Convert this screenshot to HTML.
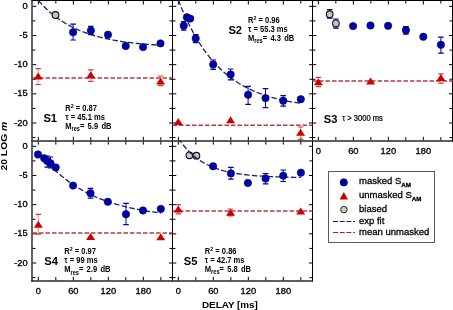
<!DOCTYPE html>
<html><head><meta charset="utf-8"><style>
html,body{margin:0;padding:0;background:#fff;}
svg{display:block;will-change:transform;}
text{font-family:"Liberation Sans",sans-serif;fill:#000;}
.tl{font-size:9.3px;stroke:#000;stroke-width:0.33px;}
.pl{font-size:11.8px;font-weight:bold;}
.st{font-size:8.6px;font-weight:bold;}
.sup{font-size:6px;}
.sub{font-size:6.4px;}
.at{font-size:9.5px;font-weight:bold;}
.lg{font-size:9.5px;stroke:#000;stroke-width:0.3px;}
.lsub{font-size:6.2px;font-weight:bold;}
</style></head>
<body><svg width="453" height="310" viewBox="0 0 453 310">
<defs><clipPath id="c00"><rect x="32" y="0" width="141" height="141"/></clipPath><clipPath id="c01"><rect x="32" y="140" width="141" height="141"/></clipPath><clipPath id="c10"><rect x="172" y="0" width="141" height="141"/></clipPath><clipPath id="c11"><rect x="172" y="140" width="141" height="141"/></clipPath><clipPath id="c20"><rect x="312" y="0" width="141" height="141"/></clipPath><clipPath id="c21"><rect x="312" y="140" width="141" height="141"/></clipPath></defs>
<path d="M31.3 0.5 H453" stroke="#000" stroke-width="1" fill="none"/>
<path d="M172.5 0 V281.7 M312.5 0 V281.7 M452.5 0 V141.7" stroke="#000" stroke-width="1" fill="none"/>
<path d="M32 0 V281.7" stroke="#222" stroke-width="1.4" fill="none"/>
<path d="M31.3 141 H453 M31.3 281 H313" stroke="#2a2a2a" stroke-width="1.45" fill="none"/>
<path d="M32.5 6.33h3.8 M172.5 6.33h-3.5 M32.5 35.5h3.8 M172.5 35.5h-3.5 M32.5 64.67h3.8 M172.5 64.67h-3.5 M32.5 93.83h3.8 M172.5 93.83h-3.5 M32.5 123.0h3.8 M172.5 123.0h-3.5 M32.5 20.92h3 M172.5 20.92h-3 M32.5 50.08h3 M172.5 50.08h-3 M32.5 79.25h3 M172.5 79.25h-3 M32.5 108.42h3 M172.5 108.42h-3 M32.5 137.58h3 M172.5 137.58h-3 M38.33 0.5v4.0 M38.33 140.3v-3.5 M73.33 0.5v4.0 M73.33 140.3v-3.5 M108.33 0.5v4.0 M108.33 140.3v-3.5 M143.33 0.5v4.0 M143.33 140.3v-3.5 M55.83 0.5v3.0 M55.83 140.3v-3.2 M90.83 0.5v3.0 M90.83 140.3v-3.2 M125.83 0.5v3.0 M125.83 140.3v-3.2 M160.83 0.5v3.0 M160.83 140.3v-3.2" stroke="#000" stroke-width="1" fill="none"/>
<path d="M172.5 6.33h3.8 M312.5 6.33h-3.5 M172.5 35.5h3.8 M312.5 35.5h-3.5 M172.5 64.67h3.8 M312.5 64.67h-3.5 M172.5 93.83h3.8 M312.5 93.83h-3.5 M172.5 123.0h3.8 M312.5 123.0h-3.5 M172.5 20.92h3 M312.5 20.92h-3 M172.5 50.08h3 M312.5 50.08h-3 M172.5 79.25h3 M312.5 79.25h-3 M172.5 108.42h3 M312.5 108.42h-3 M172.5 137.58h3 M312.5 137.58h-3 M178.33 0.5v4.0 M178.33 140.3v-3.5 M213.33 0.5v4.0 M213.33 140.3v-3.5 M248.33 0.5v4.0 M248.33 140.3v-3.5 M283.33 0.5v4.0 M283.33 140.3v-3.5 M195.83 0.5v3.0 M195.83 140.3v-3.2 M230.83 0.5v3.0 M230.83 140.3v-3.2 M265.83 0.5v3.0 M265.83 140.3v-3.2 M300.83 0.5v3.0 M300.83 140.3v-3.2" stroke="#000" stroke-width="1" fill="none"/>
<path d="M312.5 6.33h3.8 M452.5 6.33h-3.5 M312.5 35.5h3.8 M452.5 35.5h-3.5 M312.5 64.67h3.8 M452.5 64.67h-3.5 M312.5 93.83h3.8 M452.5 93.83h-3.5 M312.5 123.0h3.8 M452.5 123.0h-3.5 M312.5 20.92h3 M452.5 20.92h-3 M312.5 50.08h3 M452.5 50.08h-3 M312.5 79.25h3 M452.5 79.25h-3 M312.5 108.42h3 M452.5 108.42h-3 M312.5 137.58h3 M452.5 137.58h-3 M318.33 0.5v4.0 M318.33 140.3v-3.5 M353.33 0.5v4.0 M353.33 140.3v-3.5 M388.33 0.5v4.0 M388.33 140.3v-3.5 M423.33 0.5v4.0 M423.33 140.3v-3.5 M335.83 0.5v3.0 M335.83 140.3v-3.2 M370.83 0.5v3.0 M370.83 140.3v-3.2 M405.83 0.5v3.0 M405.83 140.3v-3.2 M440.83 0.5v3.0 M440.83 140.3v-3.2" stroke="#000" stroke-width="1" fill="none"/>
<path d="M32.5 146.33h3.8 M172.5 146.33h-3.5 M32.5 175.5h3.8 M172.5 175.5h-3.5 M32.5 204.67h3.8 M172.5 204.67h-3.5 M32.5 233.83h3.8 M172.5 233.83h-3.5 M32.5 263.0h3.8 M172.5 263.0h-3.5 M32.5 160.92h3 M172.5 160.92h-3 M32.5 190.08h3 M172.5 190.08h-3 M32.5 219.25h3 M172.5 219.25h-3 M32.5 248.42h3 M172.5 248.42h-3 M32.5 277.58h3 M172.5 277.58h-3 M38.33 141.6v3.0 M38.33 280.3v-3.5 M73.33 141.6v3.0 M73.33 280.3v-3.5 M108.33 141.6v3.0 M108.33 280.3v-3.5 M143.33 141.6v3.0 M143.33 280.3v-3.5 M55.83 141.6v3.0 M55.83 280.3v-3.2 M90.83 141.6v3.0 M90.83 280.3v-3.2 M125.83 141.6v3.0 M125.83 280.3v-3.2 M160.83 141.6v3.0 M160.83 280.3v-3.2" stroke="#000" stroke-width="1" fill="none"/>
<path d="M172.5 146.33h3.8 M312.5 146.33h-3.5 M172.5 175.5h3.8 M312.5 175.5h-3.5 M172.5 204.67h3.8 M312.5 204.67h-3.5 M172.5 233.83h3.8 M312.5 233.83h-3.5 M172.5 263.0h3.8 M312.5 263.0h-3.5 M172.5 160.92h3 M312.5 160.92h-3 M172.5 190.08h3 M312.5 190.08h-3 M172.5 219.25h3 M312.5 219.25h-3 M172.5 248.42h3 M312.5 248.42h-3 M172.5 277.58h3 M312.5 277.58h-3 M178.33 141.6v3.0 M178.33 280.3v-3.5 M213.33 141.6v3.0 M213.33 280.3v-3.5 M248.33 141.6v3.0 M248.33 280.3v-3.5 M283.33 141.6v3.0 M283.33 280.3v-3.5 M195.83 141.6v3.0 M195.83 280.3v-3.2 M230.83 141.6v3.0 M230.83 280.3v-3.2 M265.83 141.6v3.0 M265.83 280.3v-3.2 M300.83 141.6v3.0 M300.83 280.3v-3.2" stroke="#000" stroke-width="1" fill="none"/>
<text x="27.6" y="8.93" text-anchor="end" class="tl">0</text>
<text x="27.6" y="38.10" text-anchor="end" class="tl">-5</text>
<text x="27.6" y="67.27" text-anchor="end" class="tl">-10</text>
<text x="27.6" y="96.43" text-anchor="end" class="tl">-15</text>
<text x="27.6" y="125.60" text-anchor="end" class="tl">-20</text>
<text x="27.6" y="148.93" text-anchor="end" class="tl">0</text>
<text x="27.6" y="178.10" text-anchor="end" class="tl">-5</text>
<text x="27.6" y="207.27" text-anchor="end" class="tl">-10</text>
<text x="27.6" y="236.43" text-anchor="end" class="tl">-15</text>
<text x="27.6" y="265.60" text-anchor="end" class="tl">-20</text>
<text x="38.33" y="293.6" text-anchor="middle" class="tl">0</text>
<text x="73.33" y="293.6" text-anchor="middle" class="tl">60</text>
<text x="108.33" y="293.6" text-anchor="middle" class="tl">120</text>
<text x="143.33" y="293.6" text-anchor="middle" class="tl">180</text>
<text x="178.33" y="293.6" text-anchor="middle" class="tl">0</text>
<text x="213.33" y="293.6" text-anchor="middle" class="tl">60</text>
<text x="248.33" y="293.6" text-anchor="middle" class="tl">120</text>
<text x="283.33" y="293.6" text-anchor="middle" class="tl">180</text>
<text x="318.33" y="153.6" text-anchor="middle" class="tl">0</text>
<text x="353.33" y="153.6" text-anchor="middle" class="tl">60</text>
<text x="388.33" y="153.6" text-anchor="middle" class="tl">120</text>
<text x="423.33" y="153.6" text-anchor="middle" class="tl">180</text>
<path d="M32.5 78.0H172.5" stroke="#b83a42" stroke-width="1.4" stroke-dasharray="4.5 2"/>
<path d="M38.2 68.7V84.5" stroke="#e88a8a" stroke-width="1" fill="none"/><path d="M35.5 68.7h5.4 M35.5 84.5h5.4" stroke="#d23a3a" stroke-width="1.2" fill="none"/><path d="M38.2 72.39999999999999 L42.7 79.39999999999999 L33.7 79.39999999999999 Z" fill="#cc0000"/>
<path d="M90.8 69.8V81.3" stroke="#e88a8a" stroke-width="1" fill="none"/><path d="M88.1 69.8h5.4 M88.1 81.3h5.4" stroke="#d23a3a" stroke-width="1.2" fill="none"/><path d="M90.8 71.3 L95.3 78.3 L86.3 78.3 Z" fill="#cc0000"/>
<path d="M160.6 76V85.6" stroke="#e88a8a" stroke-width="1" fill="none"/><path d="M157.9 76h5.4 M157.9 85.6h5.4" stroke="#d23a3a" stroke-width="1.2" fill="none"/><path d="M160.6 77.39999999999999 L165.1 84.39999999999999 L156.1 84.39999999999999 Z" fill="#cc0000"/>
<path d="M38.33 0.50 L39.86 2.23 L41.40 3.90 L42.93 5.51 L44.46 7.06 L45.99 8.55 L47.52 9.99 L49.05 11.37 L50.58 12.71 L52.11 13.99 L53.65 15.23 L55.18 16.42 L56.71 17.57 L58.24 18.67 L59.77 19.74 L61.30 20.76 L62.83 21.75 L64.36 22.70 L65.90 23.62 L67.43 24.50 L68.96 25.35 L70.49 26.17 L72.02 26.96 L73.55 27.72 L75.08 28.45 L76.61 29.16 L78.15 29.83 L79.68 30.49 L81.21 31.12 L82.74 31.72 L84.27 32.31 L85.80 32.87 L87.33 33.41 L88.86 33.94 L90.40 34.44 L91.93 34.92 L93.46 35.39 L94.99 35.84 L96.52 36.27 L98.05 36.69 L99.58 37.09 L101.11 37.48 L102.65 37.85 L104.18 38.21 L105.71 38.55 L107.24 38.89 L108.77 39.21 L110.30 39.52 L111.83 39.81 L113.36 40.10 L114.90 40.38 L116.43 40.64 L117.96 40.90 L119.49 41.15 L121.02 41.38 L122.55 41.61 L124.08 41.83 L125.61 42.04 L127.15 42.25 L128.68 42.45 L130.21 42.64 L131.74 42.82 L133.27 42.99 L134.80 43.16 L136.33 43.33 L137.86 43.48 L139.40 43.64 L140.93 43.78 L142.46 43.92 L143.99 44.06 L145.52 44.19 L147.05 44.31 L148.58 44.43 L150.11 44.55 L151.65 44.66 L153.18 44.77 L154.71 44.88 L156.24 44.98 L157.77 45.07 L159.30 45.17 L160.83 45.26" stroke="#1c1c7a" stroke-width="1.3" fill="none" stroke-dasharray="5.5 2.3" clip-path="url(#c00)"/>
<circle cx="55.5" cy="15" r="3.35" fill="#c4c4c4" stroke="#111" stroke-width="1.1"/>
<path d="M73.1 24.2V40" stroke="#0000a8" stroke-width="1" fill="none"/><path d="M70.3 24.2h5.6 M70.3 40h5.6" stroke="#0000a8" stroke-width="1.2" fill="none"/><circle cx="73.1" cy="32.3" r="3.7" fill="#0000a8" stroke="#00006a" stroke-width="0.6"/>
<path d="M90.9 26.3V34.7" stroke="#0000a8" stroke-width="1" fill="none"/><path d="M88.10000000000001 26.3h5.6 M88.10000000000001 34.7h5.6" stroke="#0000a8" stroke-width="1.2" fill="none"/><circle cx="90.9" cy="30.6" r="3.7" fill="#0000a8" stroke="#00006a" stroke-width="0.6"/>
<circle cx="108" cy="34.7" r="3.7" fill="#0000a8" stroke="#00006a" stroke-width="0.6"/>
<circle cx="125.7" cy="46" r="3.7" fill="#0000a8" stroke="#00006a" stroke-width="0.6"/>
<circle cx="143.1" cy="47.1" r="3.7" fill="#0000a8" stroke="#00006a" stroke-width="0.6"/>
<circle cx="160.5" cy="43.4" r="3.7" fill="#0000a8" stroke="#00006a" stroke-width="0.6"/>
<path d="M172.5 125.2H312.5" stroke="#b83a42" stroke-width="1.4" stroke-dasharray="4.5 2"/>
<path d="M178.3 117.89999999999999 L182.8 124.89999999999999 L173.8 124.89999999999999 Z" fill="#cc0000"/>
<path d="M230.6 116.3 L235.1 123.3 L226.1 123.3 Z" fill="#cc0000"/>
<path d="M300.6 127V139.4" stroke="#e88a8a" stroke-width="1" fill="none"/><path d="M297.90000000000003 127h5.4 M297.90000000000003 139.4h5.4" stroke="#d23a3a" stroke-width="1.2" fill="none"/><path d="M300.6 128.7 L305.1 135.7 L296.1 135.7 Z" fill="#cc0000"/>
<path d="M178.33 0.00 L179.86 3.89 L181.40 7.64 L182.93 11.26 L184.46 14.75 L185.99 18.12 L187.52 21.36 L189.05 24.49 L190.58 27.51 L192.11 30.42 L193.65 33.23 L195.18 35.94 L196.71 38.55 L198.24 41.07 L199.77 43.50 L201.30 45.84 L202.83 48.10 L204.36 50.28 L205.90 52.39 L207.43 54.41 L208.96 56.37 L210.49 58.25 L212.02 60.07 L213.55 61.83 L215.08 63.52 L216.61 65.15 L218.15 66.72 L219.68 68.24 L221.21 69.71 L222.74 71.12 L224.27 72.48 L225.80 73.79 L227.33 75.06 L228.86 76.28 L230.40 77.46 L231.93 78.59 L233.46 79.69 L234.99 80.74 L236.52 81.76 L238.05 82.75 L239.58 83.69 L241.11 84.61 L242.65 85.49 L244.18 86.34 L245.71 87.16 L247.24 87.95 L248.77 88.71 L250.30 89.45 L251.83 90.16 L253.36 90.84 L254.90 91.50 L256.43 92.14 L257.96 92.75 L259.49 93.34 L261.02 93.92 L262.55 94.47 L264.08 95.00 L265.61 95.51 L267.15 96.00 L268.68 96.48 L270.21 96.94 L271.74 97.38 L273.27 97.81 L274.80 98.22 L276.33 98.62 L277.86 99.00 L279.40 99.37 L280.93 99.73 L282.46 100.07 L283.99 100.40 L285.52 100.72 L287.05 101.03 L288.58 101.33 L290.11 101.62 L291.65 101.89 L293.18 102.16 L294.71 102.42 L296.24 102.67 L297.77 102.91 L299.30 103.14 L300.83 103.36" stroke="#1c1c7a" stroke-width="1.3" fill="none" stroke-dasharray="5.5 2.3" clip-path="url(#c10)"/>
<path d="M183.7 21.5V30.2" stroke="#0000a8" stroke-width="1" fill="none"/><path d="M180.89999999999998 21.5h5.6 M180.89999999999998 30.2h5.6" stroke="#0000a8" stroke-width="1.2" fill="none"/><circle cx="183.7" cy="25.7" r="3.7" fill="#0000a8" stroke="#00006a" stroke-width="0.6"/>
<circle cx="186.9" cy="17.3" r="3.7" fill="#0000a8" stroke="#00006a" stroke-width="0.6"/>
<circle cx="190.2" cy="18.6" r="3.7" fill="#0000a8" stroke="#00006a" stroke-width="0.6"/>
<path d="M195.7 34.7V42.7" stroke="#0000a8" stroke-width="1" fill="none"/><path d="M192.89999999999998 34.7h5.6 M192.89999999999998 42.7h5.6" stroke="#0000a8" stroke-width="1.2" fill="none"/><circle cx="195.7" cy="38.4" r="3.7" fill="#0000a8" stroke="#00006a" stroke-width="0.6"/>
<path d="M213.2 60V69.4" stroke="#0000a8" stroke-width="1" fill="none"/><path d="M210.39999999999998 60h5.6 M210.39999999999998 69.4h5.6" stroke="#0000a8" stroke-width="1.2" fill="none"/><circle cx="213.2" cy="64.5" r="3.7" fill="#0000a8" stroke="#00006a" stroke-width="0.6"/>
<path d="M230.6 69V79.8" stroke="#0000a8" stroke-width="1" fill="none"/><path d="M227.79999999999998 69h5.6 M227.79999999999998 79.8h5.6" stroke="#0000a8" stroke-width="1.2" fill="none"/><circle cx="230.6" cy="74.5" r="3.7" fill="#0000a8" stroke="#00006a" stroke-width="0.6"/>
<path d="M248.1 86.3V104.4" stroke="#0000a8" stroke-width="1" fill="none"/><path d="M245.29999999999998 86.3h5.6 M245.29999999999998 104.4h5.6" stroke="#0000a8" stroke-width="1.2" fill="none"/><circle cx="248.1" cy="94.8" r="3.7" fill="#0000a8" stroke="#00006a" stroke-width="0.6"/>
<path d="M265.5 88.7V107.7" stroke="#0000a8" stroke-width="1" fill="none"/><path d="M262.7 88.7h5.6 M262.7 107.7h5.6" stroke="#0000a8" stroke-width="1.2" fill="none"/><circle cx="265.5" cy="98.1" r="3.7" fill="#0000a8" stroke="#00006a" stroke-width="0.6"/>
<path d="M283.2 95.6V106.1" stroke="#0000a8" stroke-width="1" fill="none"/><path d="M280.4 95.6h5.6 M280.4 106.1h5.6" stroke="#0000a8" stroke-width="1.2" fill="none"/><circle cx="283.2" cy="100.8" r="3.7" fill="#0000a8" stroke="#00006a" stroke-width="0.6"/>
<circle cx="300.8" cy="99.2" r="3.7" fill="#0000a8" stroke="#00006a" stroke-width="0.6"/>
<path d="M312.5 81.0H452.5" stroke="#b83a42" stroke-width="1.4" stroke-dasharray="4.5 2"/>
<path d="M318.4 77.3V86.6" stroke="#e88a8a" stroke-width="1" fill="none"/><path d="M315.7 77.3h5.4 M315.7 86.6h5.4" stroke="#d23a3a" stroke-width="1.2" fill="none"/><path d="M318.4 78.3 L322.9 85.3 L313.9 85.3 Z" fill="#cc0000"/>
<path d="M370.6 77.39999999999999 L375.1 84.39999999999999 L366.1 84.39999999999999 Z" fill="#cc0000"/>
<path d="M440.9 73.8V83.2" stroke="#e88a8a" stroke-width="1" fill="none"/><path d="M438.2 73.8h5.4 M438.2 83.2h5.4" stroke="#d23a3a" stroke-width="1.2" fill="none"/><path d="M440.9 73.89999999999999 L445.4 80.89999999999999 L436.4 80.89999999999999 Z" fill="#cc0000"/>
<path d="M329.7 9.7V18.2" stroke="#0000a8" stroke-width="1" fill="none"/><path d="M326.9 9.7h5.6 M326.9 18.2h5.6" stroke="#0000a8" stroke-width="1.2" fill="none"/><circle cx="329.7" cy="14.2" r="3.35" fill="#c4c4c4" stroke="#111" stroke-width="1.1"/>
<path d="M335.9 19V28.2" stroke="#0000a8" stroke-width="1" fill="none"/><path d="M333.09999999999997 19h5.6 M333.09999999999997 28.2h5.6" stroke="#0000a8" stroke-width="1.2" fill="none"/><circle cx="335.9" cy="23.4" r="3.35" fill="#c4c4c4" stroke="#111" stroke-width="1.1"/>
<circle cx="353.1" cy="26.1" r="3.7" fill="#0000a8" stroke="#00006a" stroke-width="0.6"/>
<circle cx="370.5" cy="25.5" r="3.7" fill="#0000a8" stroke="#00006a" stroke-width="0.6"/>
<path d="M388.1 23.5V28" stroke="#0000a8" stroke-width="1" fill="none"/><path d="M385.3 23.5h5.6 M385.3 28h5.6" stroke="#0000a8" stroke-width="1.2" fill="none"/><circle cx="388.1" cy="25.8" r="3.7" fill="#0000a8" stroke="#00006a" stroke-width="0.6"/>
<path d="M405.9 26.6V34.2" stroke="#0000a8" stroke-width="1" fill="none"/><path d="M403.09999999999997 26.6h5.6 M403.09999999999997 34.2h5.6" stroke="#0000a8" stroke-width="1.2" fill="none"/><circle cx="405.9" cy="30.2" r="3.7" fill="#0000a8" stroke="#00006a" stroke-width="0.6"/>
<circle cx="423.3" cy="36.8" r="3.7" fill="#0000a8" stroke="#00006a" stroke-width="0.6"/>
<path d="M440.9 37.1V53.2" stroke="#0000a8" stroke-width="1" fill="none"/><path d="M438.09999999999997 37.1h5.6 M438.09999999999997 53.2h5.6" stroke="#0000a8" stroke-width="1.2" fill="none"/><circle cx="440.9" cy="44.8" r="3.7" fill="#0000a8" stroke="#00006a" stroke-width="0.6"/>
<path d="M32.5 233.0H172.5" stroke="#b83a42" stroke-width="1.4" stroke-dasharray="4.5 2"/>
<path d="M38.3 214.4V234.2" stroke="#e88a8a" stroke-width="1" fill="none"/><path d="M35.599999999999994 214.4h5.4 M35.599999999999994 234.2h5.4" stroke="#d23a3a" stroke-width="1.2" fill="none"/><path d="M38.3 220.7 L42.8 227.7 L33.8 227.7 Z" fill="#cc0000"/>
<path d="M90.6 232.9 L95.1 239.9 L86.1 239.9 Z" fill="#cc0000"/>
<path d="M160.8 233.29999999999998 L165.3 240.29999999999998 L156.3 240.29999999999998 Z" fill="#cc0000"/>
<path d="M38.33 151.50 L39.86 153.47 L41.40 155.39 L42.93 157.25 L44.46 159.06 L45.99 160.81 L47.52 162.51 L49.05 164.17 L50.58 165.77 L52.11 167.33 L53.65 168.84 L55.18 170.31 L56.71 171.74 L58.24 173.12 L59.77 174.47 L61.30 175.78 L62.83 177.04 L64.36 178.27 L65.90 179.47 L67.43 180.63 L68.96 181.76 L70.49 182.85 L72.02 183.91 L73.55 184.94 L75.08 185.95 L76.61 186.92 L78.15 187.86 L79.68 188.78 L81.21 189.67 L82.74 190.53 L84.27 191.37 L85.80 192.19 L87.33 192.98 L88.86 193.75 L90.40 194.49 L91.93 195.21 L93.46 195.92 L94.99 196.60 L96.52 197.26 L98.05 197.91 L99.58 198.53 L101.11 199.14 L102.65 199.73 L104.18 200.30 L105.71 200.85 L107.24 201.39 L108.77 201.92 L110.30 202.42 L111.83 202.92 L113.36 203.40 L114.90 203.86 L116.43 204.31 L117.96 204.75 L119.49 205.18 L121.02 205.59 L122.55 205.99 L124.08 206.38 L125.61 206.76 L127.15 207.13 L128.68 207.48 L130.21 207.83 L131.74 208.17 L133.27 208.49 L134.80 208.81 L136.33 209.12 L137.86 209.42 L139.40 209.71 L140.93 209.99 L142.46 210.26 L143.99 210.53 L145.52 210.79 L147.05 211.04 L148.58 211.28 L150.11 211.52 L151.65 211.74 L153.18 211.97 L154.71 212.18 L156.24 212.39 L157.77 212.60 L159.30 212.79 L160.83 212.99" stroke="#1c1c7a" stroke-width="1.3" fill="none" stroke-dasharray="5.5 2.3" clip-path="url(#c01)"/>
<circle cx="38" cy="154.5" r="3.7" fill="#0000a8" stroke="#00006a" stroke-width="0.6"/>
<circle cx="44.2" cy="158.3" r="3.7" fill="#0000a8" stroke="#00006a" stroke-width="0.6"/>
<path d="M47.2 156V167.2" stroke="#0000a8" stroke-width="1" fill="none"/><path d="M44.400000000000006 156h5.6 M44.400000000000006 167.2h5.6" stroke="#0000a8" stroke-width="1.2" fill="none"/><circle cx="47.2" cy="161" r="3.7" fill="#0000a8" stroke="#00006a" stroke-width="0.6"/>
<path d="M50.5 157V168" stroke="#0000a8" stroke-width="1" fill="none"/><path d="M47.7 157h5.6 M47.7 168h5.6" stroke="#0000a8" stroke-width="1.2" fill="none"/><circle cx="50.5" cy="163.3" r="3.7" fill="#0000a8" stroke="#00006a" stroke-width="0.6"/>
<circle cx="55.7" cy="167.5" r="3.7" fill="#0000a8" stroke="#00006a" stroke-width="0.6"/>
<circle cx="73.1" cy="185.6" r="3.7" fill="#0000a8" stroke="#00006a" stroke-width="0.6"/>
<path d="M90.5 188.3V198.2" stroke="#0000a8" stroke-width="1" fill="none"/><path d="M87.7 188.3h5.6 M87.7 198.2h5.6" stroke="#0000a8" stroke-width="1.2" fill="none"/><circle cx="90.5" cy="193.2" r="3.7" fill="#0000a8" stroke="#00006a" stroke-width="0.6"/>
<circle cx="107.8" cy="201.8" r="3.7" fill="#0000a8" stroke="#00006a" stroke-width="0.6"/>
<path d="M126 203.4V224.7" stroke="#0000a8" stroke-width="1" fill="none"/><path d="M123.2 203.4h5.6 M123.2 224.7h5.6" stroke="#0000a8" stroke-width="1.2" fill="none"/><circle cx="126" cy="214.2" r="3.7" fill="#0000a8" stroke="#00006a" stroke-width="0.6"/>
<circle cx="143" cy="210.5" r="3.7" fill="#0000a8" stroke="#00006a" stroke-width="0.6"/>
<circle cx="160.8" cy="208.9" r="3.7" fill="#0000a8" stroke="#00006a" stroke-width="0.6"/>
<path d="M172.5 211.0H312.5" stroke="#b83a42" stroke-width="1.4" stroke-dasharray="4.5 2"/>
<path d="M178.3 204.6V213.9" stroke="#e88a8a" stroke-width="1" fill="none"/><path d="M175.60000000000002 204.6h5.4 M175.60000000000002 213.9h5.4" stroke="#d23a3a" stroke-width="1.2" fill="none"/><path d="M178.3 205.6 L182.8 212.6 L173.8 212.6 Z" fill="#cc0000"/>
<path d="M230.5 209V215.9" stroke="#e88a8a" stroke-width="1" fill="none"/><path d="M227.8 209h5.4 M227.8 215.9h5.4" stroke="#d23a3a" stroke-width="1.2" fill="none"/><path d="M230.5 208.7 L235.0 215.7 L226.0 215.7 Z" fill="#cc0000"/>
<path d="M300.7 207.5 L305.2 214.5 L296.2 214.5 Z" fill="#cc0000"/>
<circle cx="189.4" cy="155.3" r="3.35" fill="#c4c4c4" stroke="#111" stroke-width="1.1"/>
<circle cx="196.4" cy="155.7" r="3.35" fill="#c4c4c4" stroke="#111" stroke-width="1.1"/>
<path d="M178.33 138.30 L179.86 140.54 L181.40 142.65 L182.93 144.64 L184.46 146.52 L185.99 148.29 L187.52 149.96 L189.05 151.54 L190.58 153.03 L192.11 154.43 L193.65 155.76 L195.18 157.01 L196.71 158.18 L198.24 159.30 L199.77 160.34 L201.30 161.33 L202.83 162.27 L204.36 163.15 L205.90 163.98 L207.43 164.76 L208.96 165.50 L210.49 166.20 L212.02 166.85 L213.55 167.47 L215.08 168.06 L216.61 168.61 L218.15 169.13 L219.68 169.62 L221.21 170.09 L222.74 170.52 L224.27 170.94 L225.80 171.32 L227.33 171.69 L228.86 172.04 L230.40 172.36 L231.93 172.67 L233.46 172.96 L234.99 173.24 L236.52 173.50 L238.05 173.74 L239.58 173.97 L241.11 174.19 L242.65 174.39 L244.18 174.58 L245.71 174.77 L247.24 174.94 L248.77 175.10 L250.30 175.25 L251.83 175.40 L253.36 175.53 L254.90 175.66 L256.43 175.78 L257.96 175.90 L259.49 176.01 L261.02 176.11 L262.55 176.20 L264.08 176.29 L265.61 176.38 L267.15 176.46 L268.68 176.54 L270.21 176.61 L271.74 176.67 L273.27 176.74 L274.80 176.80 L276.33 176.86 L277.86 176.91 L279.40 176.96 L280.93 177.01 L282.46 177.05 L283.99 177.09 L285.52 177.13 L287.05 177.17 L288.58 177.21 L290.11 177.24 L291.65 177.27 L293.18 177.30 L294.71 177.33 L296.24 177.36 L297.77 177.38 L299.30 177.41 L300.83 177.43" stroke="#1c1c7a" stroke-width="1.3" fill="none" stroke-dasharray="5.5 2.3" clip-path="url(#c11)"/>
<circle cx="213.1" cy="166.3" r="3.7" fill="#0000a8" stroke="#00006a" stroke-width="0.6"/>
<path d="M230.9 167.4V179.2" stroke="#0000a8" stroke-width="1" fill="none"/><path d="M228.1 167.4h5.6 M228.1 179.2h5.6" stroke="#0000a8" stroke-width="1.2" fill="none"/><circle cx="230.9" cy="173.4" r="3.7" fill="#0000a8" stroke="#00006a" stroke-width="0.6"/>
<circle cx="247.9" cy="182.9" r="3.7" fill="#0000a8" stroke="#00006a" stroke-width="0.6"/>
<path d="M265.6 173.6V183.8" stroke="#0000a8" stroke-width="1" fill="none"/><path d="M262.8 173.6h5.6 M262.8 183.8h5.6" stroke="#0000a8" stroke-width="1.2" fill="none"/><circle cx="265.6" cy="178.5" r="3.7" fill="#0000a8" stroke="#00006a" stroke-width="0.6"/>
<path d="M283.2 170V181.5" stroke="#0000a8" stroke-width="1" fill="none"/><path d="M280.4 170h5.6 M280.4 181.5h5.6" stroke="#0000a8" stroke-width="1.2" fill="none"/><circle cx="283.2" cy="175.8" r="3.7" fill="#0000a8" stroke="#00006a" stroke-width="0.6"/>
<circle cx="300.9" cy="172.7" r="3.7" fill="#0000a8" stroke="#00006a" stroke-width="0.6"/>
<g transform="translate(43.4 122.2) scale(0.95 1)"><text x="0" y="0" class="pl">S1</text></g>
<g transform="translate(65.2 110.9) scale(0.88 1)"><text x="0" y="0" class="st">R<tspan class="sup" dy="-3">2</tspan><tspan dy="3"> = 0.87</tspan></text></g><g transform="translate(65.2 119.8) scale(0.88 1)"><text x="0" y="0" class="st">τ = 45.1 ms</text></g><g transform="translate(65.2 128.7) scale(0.88 1)"><text x="0" y="0" class="st">M<tspan class="sub" dy="2.4">res</tspan><tspan dy="-2.4" word-spacing="1.3">= 5.9 dB</tspan></text></g>
<g transform="translate(228.4 33.6) scale(0.95 1)"><text x="0" y="0" class="pl">S2</text></g>
<g transform="translate(248.0 22.9) scale(0.88 1)"><text x="0" y="0" class="st">R<tspan class="sup" dy="-3">2</tspan><tspan dy="3"> = 0.96</tspan></text></g><g transform="translate(248.0 31.8) scale(0.88 1)"><text x="0" y="0" class="st">τ = 55.3 ms</text></g><g transform="translate(248.0 40.7) scale(0.88 1)"><text x="0" y="0" class="st">M<tspan class="sub" dy="2.4">res</tspan><tspan dy="-2.4" word-spacing="1.3">= 4.3 dB</tspan></text></g>
<g transform="translate(323.8 123.0) scale(0.95 1)"><text x="0" y="0" class="pl">S3</text></g>
<g transform="translate(342.2 121.4) scale(0.88 1)"><text x="0" y="0" class="st" style="font-weight:normal;stroke:#000;stroke-width:0.25px">τ &gt; 3000 ms</text></g>
<g transform="translate(44.2 264.6) scale(0.95 1)"><text x="0" y="0" class="pl">S4</text></g>
<g transform="translate(64.2 254.3) scale(0.88 1)"><text x="0" y="0" class="st">R<tspan class="sup" dy="-3">2</tspan><tspan dy="3"> = 0.97</tspan></text></g><g transform="translate(64.2 263.2) scale(0.88 1)"><text x="0" y="0" class="st">τ = 99 ms</text></g><g transform="translate(64.2 272.1) scale(0.88 1)"><text x="0" y="0" class="st">M<tspan class="sub" dy="2.4">res</tspan><tspan dy="-2.4" word-spacing="1.3">= 2.9 dB</tspan></text></g>
<g transform="translate(183.8 264.5) scale(0.95 1)"><text x="0" y="0" class="pl">S5</text></g>
<g transform="translate(204.8 254.1) scale(0.88 1)"><text x="0" y="0" class="st">R<tspan class="sup" dy="-3">2</tspan><tspan dy="3"> = 0.86</tspan></text></g><g transform="translate(204.8 263.0) scale(0.88 1)"><text x="0" y="0" class="st">τ = 42.7 ms</text></g><g transform="translate(204.8 271.9) scale(0.88 1)"><text x="0" y="0" class="st">M<tspan class="sub" dy="2.4">res</tspan><tspan dy="-2.4" word-spacing="1.3">= 5.8 dB</tspan></text></g>
<g transform="translate(229.9 308) scale(1.04 1)"><text x="0" y="0" text-anchor="middle" class="at">DELAY [ms]</text></g>
<g transform="translate(6.9 146.1) rotate(-90) scale(1.09 1)"><text x="0" y="0" text-anchor="middle" class="at">20 LOG <tspan font-style="italic">m</tspan></text></g>
<rect x="328.5" y="171.5" width="106" height="71" fill="#fff" stroke="#5a5a5a" stroke-width="1"/>
<circle cx="343.8" cy="182.4" r="3.6" fill="#0000a8" stroke="#00006a" stroke-width="0.8"/>
<path d="M343.8 192.1 L348 199.5 L339.6 199.5 Z" fill="#cc0000"/>
<circle cx="343.9" cy="209.6" r="3.3" fill="#c8c8c8" stroke="#111" stroke-width="0.9"/>
<path d="M333 221.5H355" stroke="#14147a" stroke-width="1" stroke-dasharray="5 1.7"/>
<path d="M333 232.5H355" stroke="#a82020" stroke-width="1" stroke-dasharray="5 1.7"/>
<text x="359" y="184" class="lg">masked S<tspan class="lsub" dy="3">AM</tspan></text>
<text x="359" y="198.2" class="lg">unmasked S<tspan class="lsub" dy="3">AM</tspan></text>
<text x="359" y="212.1" class="lg">biased</text>
<text x="359" y="223.5" class="lg">exp fit</text>
<text x="359" y="234.6" class="lg">mean unmasked</text>
</svg></body></html>
